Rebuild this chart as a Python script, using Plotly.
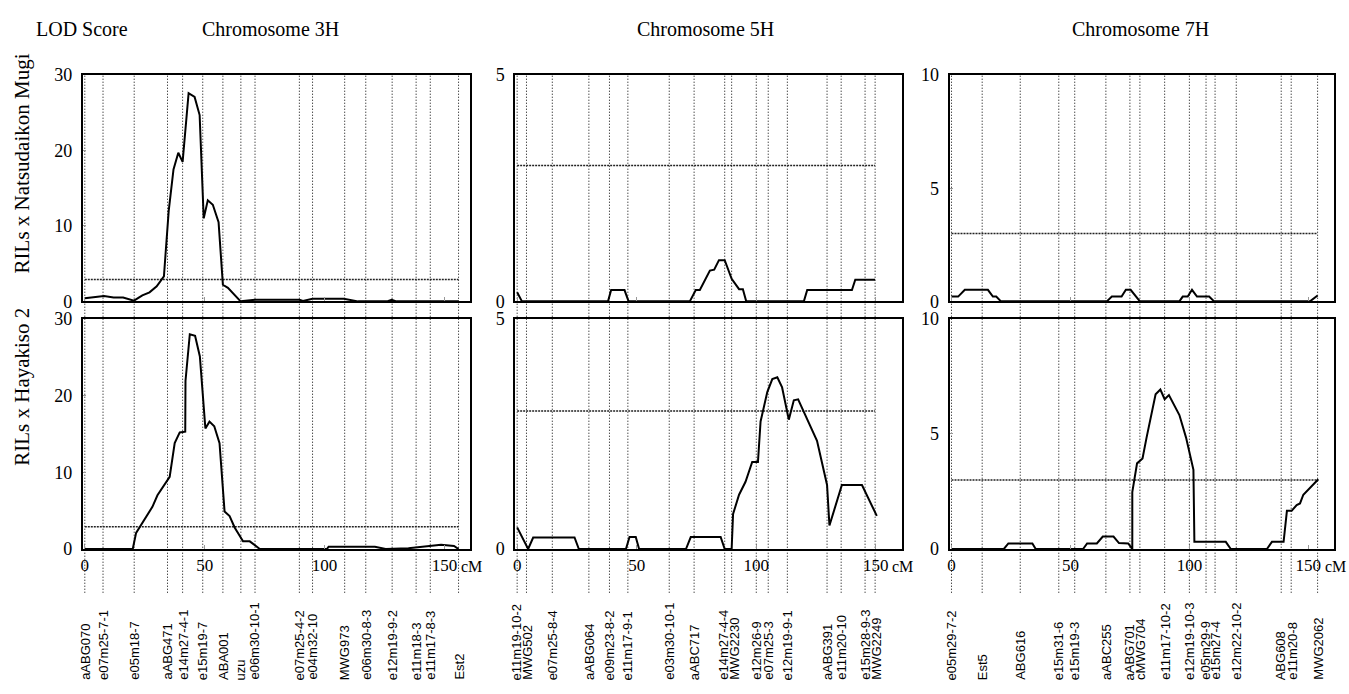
import plotly.graph_objects as go

# ---------------- data ----------------
chromosomes = ["Chromosome 3H", "Chromosome 5H", "Chromosome 7H"]
populations = ["RILs x Natsudaikon Mugi", "RILs x Hayakiso 2"]
y_max = [30, 5, 10]
y_ticks = [[0, 10, 20, 30], [0, 5], [0, 5, 10]]
threshold = [2.9, 3.0, 3.0]
x_ticks = [0, 50, 100, 150]

# markers (name, cM)
markers_3h = ["aABG070", "e07m25-7-1", "e05m18-7", "aABG471", "e14m27-4-1", "e15m19-7",
              "ABA001", "uzu", "e06m30-10-1", "e07m25-4-2", "e04m32-10", "MWG973",
              "e06m30-8-3", "e12m19-9-2", "e11m18-3", "e11m17-8-3", "Est2"]
pos_3h = [0, 7.6, 20.6, 34.5, 40.8, 49.2, 57.6, 65.1, 71, 89.5, 95, 108.4,
          117.2, 128.2, 138.2, 144.1, 155.9]
markers_5h = ["e11m19-10-2", "MWG502", "e07m25-8-4", "aABG064", "e09m23-8-2", "e11m17-9-1",
              "e03m30-10-1", "aABC717", "e14m27-4-4", "MWG2230", "e12m26-9", "e07m25-3",
              "e12m19-9-1", "aABG391", "e11m20-10", "e15m28-9-3", "MWG2249"]
pos_5h = [0, 3.9, 14.7, 30, 38.6, 46.3, 63.6, 74, 86.8, 89.7, 100, 105, 113,
          129.6, 135.5, 145.5, 149.7]
markers_7h = ["e05m29-7-2", "Est5", "ABG616", "e15m31-6", "e15m19-3", "aABC255", "aABG701",
              "cMWG704", "e11m17-10-2", "e12m19-10-3", "e05m29-9", "e15m27-4",
              "e12m22-10-2", "ABG608", "e11m20-8", "MWG2062"]
pos_7h = [0, 12.9, 28.9, 45.1, 51.8, 64.9, 75, 79.2, 89.6, 100, 107, 110.8,
          119.7, 138.6, 142.8, 153.9]

# LOD profiles
cm_3h_nm = [0, 4, 8, 12, 16, 20.5, 24, 27, 30, 33, 35, 37, 39, 40.8, 43.3, 45.8, 47.9,
            49.6, 51.3, 53.4, 55.8, 57.6, 59.7, 65, 71, 89.5, 91, 95, 108, 114, 126, 128, 130, 156]
lod_3h_nm = [0.4, 0.5, 0.7, 0.5, 0.5, 0.1, 0.8, 1.2, 2.0, 3.3, 12, 17.5, 19.7, 18.5, 27.6,
             27.1, 24.7, 11, 13.4, 12.8, 10.5, 2.2, 1.8, 0, 0.2, 0.2, 0.05, 0.35, 0.35, 0,
             0, 0.2, 0, 0]
cm_3h_ha = [0, 20, 21.4, 24, 28.2, 30.3, 33, 35.4, 37.5, 39.6, 41.9, 42, 43.8, 46, 48, 50.3,
            52, 54, 56.2, 58.3, 60.4, 62.5, 66, 68.8, 73, 101, 101.7, 121, 125.5, 135,
            148.6, 154, 155.9]
lod_3h_ha = [0, 0, 2.1, 3.4, 5.5, 7, 8.3, 9.4, 13.8, 15.2, 15.3, 21.9, 28, 27.8, 25.1, 15.7,
             16.6, 16, 13.8, 4.9, 4.3, 2.8, 1, 1, 0, 0, 0.3, 0.3, 0, 0.1, 0.55, 0.4, 0]
cm_5h_nm = [0, 2, 38, 39.3, 44.9, 46.6, 72.2, 74.7, 76.4, 80.6, 82.4, 84.4, 86.8, 89.7,
            92.8, 94.4, 95.8, 119.9, 121.3, 140, 141.4, 149.7]
lod_5h_nm = [0.2, 0, 0, 0.25, 0.25, 0, 0, 0.25, 0.25, 0.68, 0.7, 0.91, 0.91, 0.5, 0.27,
             0.27, 0, 0, 0.25, 0.25, 0.48, 0.48]
cm_5h_ha = [0, 4.6, 6.7, 24, 25.8, 45.5, 47, 49.6, 51, 70.6, 72.6, 85.1, 86.8, 89.7, 90.3,
            92.8, 95.5, 98.3, 100.7, 101.8, 104.6, 106.7, 108.8, 110.8, 113.6, 115.7,
            117.5, 121.2, 125.4, 129.6, 130.6, 135.8, 144.2, 150.4]
lod_5h_ha = [0.47, 0, 0.25, 0.25, 0, 0, 0.26, 0.26, 0, 0, 0.26, 0.26, 0, 0, 0.76, 1.18,
             1.46, 1.89, 1.89, 2.77, 3.41, 3.69, 3.73, 3.51, 2.81, 3.23, 3.25, 2.81, 2.35,
             1.39, 0.51, 1.39, 1.39, 0.72]
cm_7h_nm = [0, 2.8, 5.6, 15.3, 17.4, 18.8, 20.8, 65.3, 67.4, 71.5, 73.3, 75.3, 79.2, 95.8,
            97.2, 99.3, 101.1, 103.2, 108.3, 110.4, 150.7, 153.9]
lod_7h_nm = [0.21, 0.21, 0.51, 0.51, 0.21, 0.21, 0, 0, 0.21, 0.21, 0.51, 0.51, 0, 0, 0.21,
             0.21, 0.51, 0.21, 0.21, 0, 0, 0.26]
cm_7h_ha = [0, 22, 23.9, 34, 35.4, 55.3, 57, 61.1, 63.6, 68.1, 70.4, 74.3, 76, 76, 78, 80.3,
            82, 85.8, 87.8, 89.6, 91.4, 95.8, 98.6, 101.1, 101.7, 102.1, 115.3, 117.4,
            132.6, 134.7, 139.6, 141, 143, 145.1, 146.5, 147.9, 154.2]
lod_7h_ha = [0, 0, 0.24, 0.24, 0, 0, 0.24, 0.24, 0.54, 0.54, 0.26, 0.24, 0, 2.47, 3.72,
             3.93, 4.84, 6.72, 6.93, 6.51, 6.69, 5.82, 4.84, 3.72, 3.44, 0.31, 0.31, 0, 0,
             0.31, 0.31, 1.66, 1.66, 1.91, 1.98, 2.36, 3.03]

# ---------------- layout helpers ----------------
W, H = 1349, 694
col_px = [(81, 469), (514, 901), (949, 1334)]
row_px = [(67, 300), (318, 555)]
title_px = [269, 705, 1140]
x_range = [-0.8, 160.8]
SERIF = "Liberation Serif, Times New Roman, serif"
SANS = "Liberation Sans, Arial, sans-serif"

def fx(px):
    return px / W

def fy(py):
    return 1 - py / H

profiles = [[(cm_3h_nm, lod_3h_nm), (cm_3h_ha, lod_3h_ha)],
            [(cm_5h_nm, lod_5h_nm), (cm_5h_ha, lod_5h_ha)],
            [(cm_7h_nm, lod_7h_nm), (cm_7h_ha, lod_7h_ha)]]
marker_names = [markers_3h, markers_5h, markers_7h]
marker_pos = [pos_3h, pos_5h, pos_7h]

fig = go.Figure()
layout = dict(width=W, height=H, margin=dict(l=0, r=0, t=0, b=0),
              paper_bgcolor="white", plot_bgcolor="rgba(0,0,0,0)",
              showlegend=False, shapes=[], annotations=[])

def spread(vals, gap):
    p = list(vals)
    for _ in range(300):
        moved = False
        for i in range(1, len(p)):
            d = p[i] - p[i - 1]
            if d < gap - 1e-6:
                s = (gap - d) / 2
                p[i - 1] -= s
                p[i] += s
                moved = True
        if not moved:
            break
    return p

px_per_cm = (col_px[0][1] - col_px[0][0]) / (x_range[1] - x_range[0])

for c in range(3):
    for r in range(2):
        idx = c * 2 + r + 1
        xa = "x" if idx == 1 else f"x{idx}"
        ya = "y" if idx == 1 else f"y{idx}"
        xk = "xaxis" if idx == 1 else f"xaxis{idx}"
        yk = "yaxis" if idx == 1 else f"yaxis{idx}"
        bottom = (r == 1)
        layout[xk] = dict(
            domain=[fx(col_px[c][0]), fx(col_px[c][1])], anchor=ya, range=x_range,
            showline=True, mirror=True, linewidth=2, linecolor="black",
            showgrid=False, zeroline=False,
            ticks="inside", ticklen=4, tickwidth=1, tickcolor="#999",
            tickvals=x_ticks, ticktext=[str(v) for v in x_ticks],
            showticklabels=bottom,
            tickfont=dict(family=SERIF, size=17, color="black"),
        )
        layout[yk] = dict(
            domain=[fy(row_px[r][1]), fy(row_px[r][0])], anchor=xa,
            range=[0, y_max[c]],
            showline=True, mirror=True, linewidth=2, linecolor="black",
            showgrid=False, zeroline=False,
            ticks="inside", ticklen=3, tickwidth=1, tickcolor="#999",
            tickvals=y_ticks[c], ticktext=[str(v) for v in y_ticks[c]],
            tickfont=dict(family=SERIF, size=18, color="black"),
            ticklabelstandoff=5,
        )
        cm, lod = profiles[c][r]
        # threshold line
        fig.add_trace(go.Scatter(
            x=[0, max(marker_pos[c])], y=[threshold[c], threshold[c]],
            xaxis=xa, yaxis=ya, mode="lines",
            line=dict(color="#222", width=1.5, dash="2px,1px"),
            hoverinfo="skip"))
        # LOD curve
        fig.add_trace(go.Scatter(
            x=cm, y=lod, xaxis=xa, yaxis=ya, mode="lines",
            line=dict(color="black", width=2), hoverinfo="skip"))
        if bottom:
            layout["annotations"].append(dict(
                text="cM", xref=xa, yref="paper", x=156.0, y=fy(573),
                xanchor="left", yanchor="middle", showarrow=False,
                font=dict(family=SERIF, size=16, color="black")))
    # marker lines, spanning both panels and down to the labels
    xa_top = "x" if c == 0 else f"x{c * 2 + 1}"
    xa_bot = f"x{c * 2 + 2}"
    for p in marker_pos[c]:
        layout["shapes"].append(dict(
            type="line", xref=xa_top, yref="paper", x0=p, x1=p,
            y0=fy(600), y1=fy(row_px[0][0]), layer="below",
            line=dict(color="black", width=1, dash="1px,2px")))
    # marker labels
    lab = spread(marker_pos[c], 11 / px_per_cm)
    for name, lx in zip(marker_names[c], lab):
        layout["annotations"].append(dict(
            text=name, xref=xa_bot, yref="paper", x=lx, y=fy(692),
            xanchor="center", yanchor="bottom", textangle=-90, showarrow=False,
            font=dict(family=SANS, size=13, color="black")))
    # chromosome title
    layout["annotations"].append(dict(
        text=chromosomes[c], xref="paper", yref="paper",
        x=fx(title_px[c]), y=fy(20),
        xanchor="center", yanchor="middle", showarrow=False,
        font=dict(family=SERIF, size=20, color="black")))

layout["annotations"].append(dict(
    text="LOD Score", xref="paper", yref="paper", x=fx(80), y=fy(20),
    xanchor="center", yanchor="middle", showarrow=False,
    font=dict(family=SERIF, size=20, color="black")))
for r, name in enumerate(populations):
    yc = [158, 388][r]
    layout["annotations"].append(dict(
        text=name, xref="paper", yref="paper", x=fx(20), y=fy(yc),
        xanchor="center", yanchor="middle", textangle=-90, showarrow=False,
        font=dict(family=SERIF, size=21, color="black")))

fig.update_layout(**layout)
fig.write_html("out.html", config={"displayModeBar": False},
               post_script="document.body.style.margin='0';document.body.style.overflow='hidden';")
